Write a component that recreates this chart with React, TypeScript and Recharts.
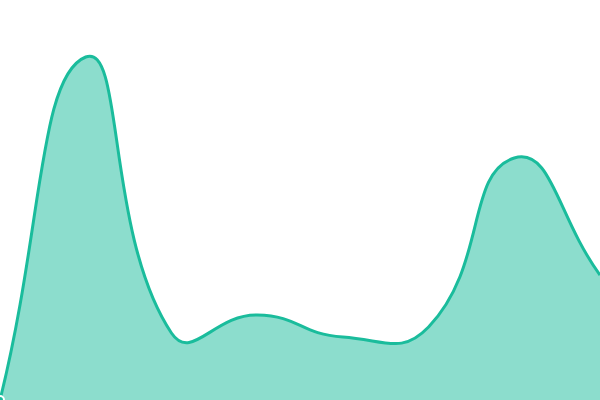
import React from "react";
import { AreaChart, Area, XAxis, YAxis } from "recharts";

const categories = ["A", "B", "C", "D", "E", "F", "G", "H"];
const values = [0, 343, 67, 85, 63, 73, 242, 125];

const data = categories.map((c, i) => ({ name: c, value: values[i] }));

const SMOOTH = 0.5;

// Smooth curve: Bezier control points along (next - prev), split by neighbouring segment lengths.
class SmoothCurve {
  _context: any;
  _line: number = NaN;
  _pts: number[][] = [];
  constructor(context: any) {
    this._context = context;
  }
  areaStart() { this._line = 0; }
  areaEnd() { this._line = NaN; }
  lineStart() { this._pts = []; }
  point(x: number, y: number) { this._pts.push([+x, +y]); }
  lineEnd() {
    const pts = this._pts;
    const n = pts.length;
    const ctx = this._context;
    if (n > 0) {
      if (this._line) ctx.lineTo(pts[0][0], pts[0][1]);
      else ctx.moveTo(pts[0][0], pts[0][1]);
      const cpsIn: number[][] = [];
      const cpsOut: number[][] = [];
      for (let i = 0; i < n; i++) {
        const p = pts[i];
        const prev = pts[Math.max(i - 1, 0)];
        const next = pts[Math.min(i + 1, n - 1)];
        const v = [(next[0] - prev[0]) * SMOOTH, (next[1] - prev[1]) * SMOOTH];
        const d0 = Math.hypot(p[0] - prev[0], p[1] - prev[1]);
        const d1 = Math.hypot(next[0] - p[0], next[1] - p[1]);
        const sum = d0 + d1;
        const r0 = sum > 0 ? d0 / sum : 0.5;
        const r1 = sum > 0 ? d1 / sum : 0.5;
        cpsIn.push([p[0] - v[0] * r0, p[1] - v[1] * r0]);
        cpsOut.push([p[0] + v[0] * r1, p[1] + v[1] * r1]);
      }
      for (let i = 1; i < n; i++) {
        const a = cpsOut[i - 1];
        const b = cpsIn[i];
        ctx.bezierCurveTo(a[0], a[1], b[0], b[1], pts[i][0], pts[i][1]);
      }
    }
    if (this._line || (this._line !== 0 && n === 1)) ctx.closePath();
    this._line = 1 - this._line;
  }
}

const smoothCurve = (context: any) => new SmoothCurve(context);

export default function App() {
  return (
    <div style={{ position: "absolute", left: 0, top: 0, width: 600, height: 400 }}>
      <AreaChart width={600} height={400} data={data} margin={{ top: 0, right: 0, bottom: 0, left: 0 }}>
        <XAxis dataKey="name" hide />
        <YAxis hide domain={[0, 400]} />
        <Area
          type={smoothCurve as any}
          dataKey="value"
          stroke="#1abc9c"
          strokeWidth={3}
          fill="#1abc9c"
          fillOpacity={0.5}
          isAnimationActive={false}
        />
      </AreaChart>
    </div>
  );
}
